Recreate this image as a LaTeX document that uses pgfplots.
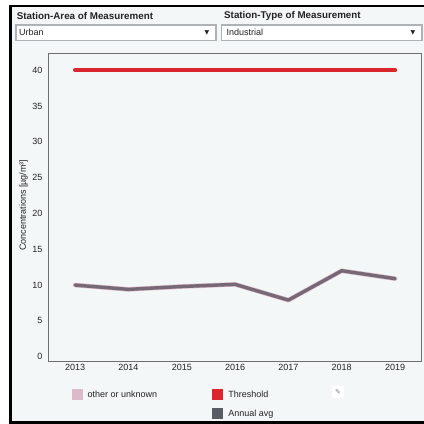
\documentclass[border=0pt]{standalone}
\usepackage{fontspec}
\setmainfont{Liberation Sans}
\newfontfamily\dejavu{DejaVu Sans}
\usepackage{pgfplots}
\pgfplotsset{compat=1.18}
\definecolor{panelbg}{RGB}{243,247,248}
\definecolor{thr}{RGB}{218,38,44}
\definecolor{avg}{RGB}{100,90,102}
\definecolor{oth}{RGB}{221,186,202}
\definecolor{avgsq}{RGB}{88,92,100}
\definecolor{boxborder}{RGB}{175,178,180}
\definecolor{txt}{RGB}{35,35,35}
\definecolor{axisgray}{RGB}{110,110,110}
\begin{document}
\begin{tikzpicture}[x=1pt,y=1pt]
\useasboundingbox (0,0) rectangle (424,424);
\fill[white] (0,0) rectangle (424,424);
\fill[panelbg] (11,2) rectangle (424,417);
\fill[black] (9,0) rectangle (11.7,419);
\fill[black] (9,416.7) rectangle (424,419);
\fill[black] (9,0) rectangle (424,3);
% headers
\node[anchor=west, font=\fontsize{9.8}{11}\selectfont\bfseries, text=txt, inner sep=0pt] at (16.7,408) {Station-Area of Measurement};
\node[anchor=west, font=\fontsize{9.8}{11}\selectfont\bfseries, text=txt, inner sep=0pt] at (224,408) {Station-Type of Measurement};
% dropdowns
\draw[boxborder, line width=1.2pt, fill=white] (16,383.3) rectangle (216,399);
\node[anchor=west, font=\fontsize{9}{10}\selectfont, text=txt, inner sep=0pt] at (19,391.3) {Urban};
\node[font=\dejavu\fontsize{6}{6}\selectfont, text=txt, inner sep=0pt] at (207,391) {▼};
\draw[boxborder, line width=1.2pt, fill=white] (221.7,383.3) rectangle (422,399);
\node[anchor=west, font=\fontsize{9}{10}\selectfont, text=txt, inner sep=0pt] at (226.5,391.3) {Industrial};
\node[font=\dejavu\fontsize{6}{6}\selectfont, text=txt, inner sep=0pt] at (413,391) {▼};
\begin{axis}[
  at={(48.5pt,63pt)}, anchor=south west,
  scale only axis, width=373.2pt, height=308pt,
  xmin=2012.5, xmax=2019.5, ymin=-0.6, ymax=42.4,
  xtick={2013,2014,2015,2016,2017,2018,2019},
  ytick={0,5,10,15,20,25,30,35,40},
  xticklabel style={/pgf/number format/1000 sep={}},
  major tick length=0pt,
  axis line style={draw=axisgray, line width=0.8pt},
  axis background/.style={fill=panelbg},
  tick label style={font=\fontsize{9}{10}\selectfont, text=txt},
  yticklabel style={xshift=-2.5pt},
  /pgf/number format/assume math mode=true,
  ylabel={Concentrations [µg/m³]},
  ylabel style={at={(axis description cs:-0.067,0.506)}, anchor=center, font=\fontsize{9}{10}\selectfont, text=txt},
  legend columns=2,
  legend style={at={(axis description cs:0.0622,-0.0909)}, anchor=north west,
    draw=none, fill=none, inner sep=0pt, outer sep=0pt,
    font=\fontsize{9}{10}\selectfont, text=txt, row sep=8pt,
    cells={anchor=west}, nodes={inner sep=0pt},
    /tikz/every odd column/.append style={column sep=5pt},
    /tikz/every even column/.append style={column sep=55pt}},
]
\addplot[oth, line width=4.6pt, line join=round, line cap=round,
  legend image code/.code={\fill[oth, draw=none, line width=0pt] (0pt,-5.5pt) rectangle (11pt,5.5pt);}]
  coordinates {(2013,10.0) (2014,9.4) (2015,9.8) (2016,10.1) (2017,7.9) (2018,12.0) (2019,10.9)};
\addlegendentry{other or unknown}
\addplot[thr, line width=4.3pt, line cap=round,
  legend image code/.code={\fill[thr, draw=none, line width=0pt] (0pt,-5.5pt) rectangle (11pt,5.5pt);}]
  coordinates {(2013,40) (2019,40)};
\addlegendentry{Threshold}
\addlegendimage{empty legend}
\addlegendentry{}
\addplot[avg, opacity=0.85, line width=3.4pt, line join=round, line cap=round,
  legend image code/.code={\fill[avgsq, opacity=1, draw=none, line width=0pt] (0pt,-5.5pt) rectangle (11pt,5.5pt);}]
  coordinates {(2013,10.0) (2014,9.4) (2015,9.8) (2016,10.1) (2017,7.9) (2018,12.0) (2019,10.9)};
\addlegendentry{Annual avg}
\end{axis}
\node[fill=white, rounded corners=2pt, minimum size=12pt, inner sep=0pt, text=gray, font=\dejavu\fontsize{7}{7}\selectfont] at (338,32) {✎};
\end{tikzpicture}
\end{document}
